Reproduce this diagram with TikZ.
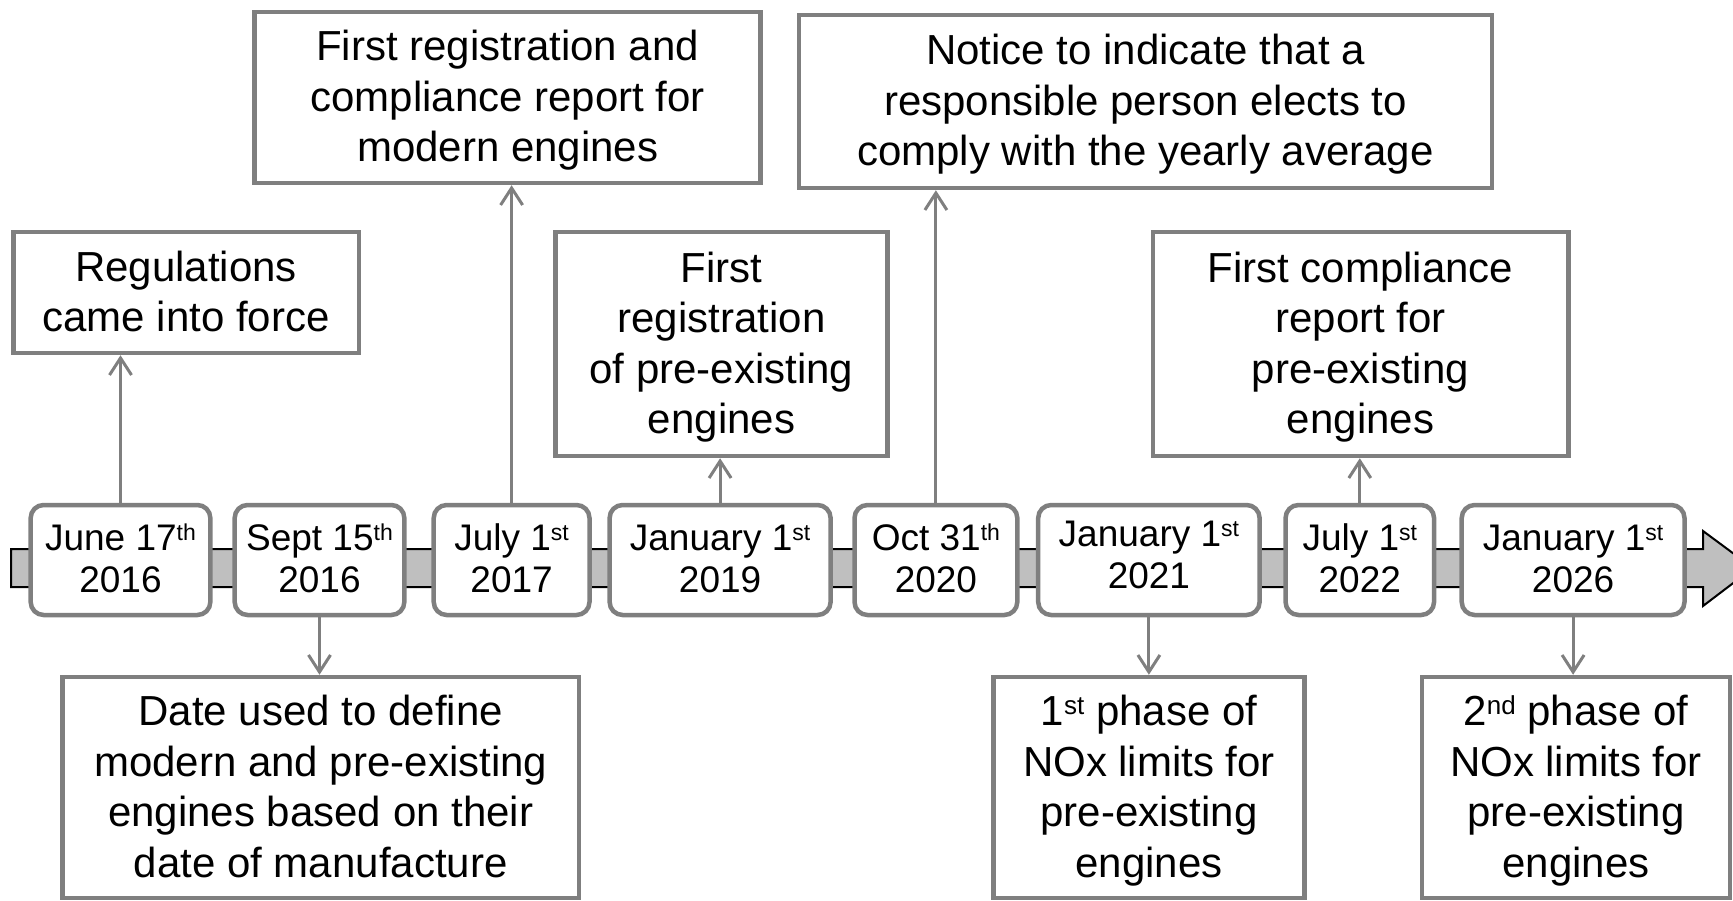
\documentclass[tikz,border=0pt]{standalone}
\usepackage{fontspec}
\setmainfont{Liberation Sans}
\usetikzlibrary{arrows.meta}
\definecolor{bordergray}{RGB}{127,127,127}
\definecolor{barfill}{RGB}{191,191,191}
\newcommand\evs{\rule[-11.5pt]{0pt}{50.5pt}}
\newcommand\dts{\rule[-10pt]{0pt}{42pt}}
\newcommand\dtslow{\rule[-18pt]{0pt}{42pt}}
\newcommand\dsup[1]{\raisebox{10pt}{\fontsize{23}{23}\selectfont #1}}
\newcommand\esup[1]{\raisebox{11.5pt}{\fontsize{26}{26}\selectfont #1}}
\begin{document}
\begin{tikzpicture}[x=1pt,y=-1pt,
  datebox/.style={draw=bordergray, line width=4.5pt, rounded corners=13pt, fill=white,
    inner sep=0pt, align=center, font=\fontsize{37}{42}\selectfont, minimum height=110pt},
  evbox/.style={draw=bordergray, line width=4.5pt, fill=white, inner sep=0pt,
    align=center, font=\fontsize{42}{50.5}\selectfont},
  link/.style={draw=bordergray, line width=3pt, -{Straight Barb[length=17pt,width=22pt]}},
  timebar/.style={draw=black, line width=2pt, fill=barfill, line join=miter}]
\useasboundingbox (0,0) rectangle (1733,901);
\clip (0,0) rectangle (1733,901);
% timeline bar
\draw[timebar] (11,549) -- (1703,549) -- (1703,531) -- (1753,568) -- (1703,606)
  -- (1703,587) -- (11,587) -- cycle;
% date boxes
\node[datebox, minimum width=179.7pt] (d1) at (120.5,560) {\dts June 17\dsup{th}\\\dts 2016};
\node[datebox, minimum width=169.7pt] (d2) at (319.5,560) {\dts Sept 15\dsup{th}\\\dts 2016};
\node[datebox, minimum width=155.8pt] (d3) at (511.6,560) {\dts July 1\dsup{st}\\\dts 2017};
\node[datebox, minimum width=221pt] (d4) at (720.1,560) {\dts January 1\dsup{st}\\\dts 2019};
\node[datebox, minimum width=162.8pt] (d5) at (935.9,560) {\dts Oct 31\dsup{th}\\\dts 2020};
\node[datebox, minimum width=221.4pt] (d6) at (1148.9,560) {\dts January 1\dsup{st}\\\dtslow 2021};
\node[datebox, minimum width=148.5pt] (d7) at (1359.8,560) {\dts July 1\dsup{st}\\\dts 2022};
\node[datebox, minimum width=222.8pt] (d8) at (1573.1,560) {\dts January 1\dsup{st}\\\dts 2026};
% event boxes
\node[evbox, minimum width=345.5pt, minimum height=121pt] (e1) at (186,292.5)
  {\evs Regulations\\\evs came into force};
\node[evbox, minimum width=506pt, minimum height=171pt] (e2) at (507.7,97.5)
  {\evs First registration and\\\evs compliance report for\\\evs modern engines};
\node[evbox, minimum width=331.8pt, minimum height=224pt] (e3) at (721.5,344)
  {\evs First\\\evs registration\\\evs of pre-existing\\\evs engines};
\node[evbox, minimum width=693pt, minimum height=173pt] (e4) at (1145.5,101.5)
  {\evs Notice to indicate that a\\\evs responsible person elects to\\\evs comply with the yearly average};
\node[evbox, minimum width=415.5pt, minimum height=224pt] (e5) at (1360.5,344)
  {\evs First compliance\\\evs report for\\\evs pre-existing\\\evs engines};
\node[evbox, minimum width=516.7pt, minimum height=221pt] (e6) at (320.7,787.5)
  {\evs Date used to define\\\evs modern and pre-existing\\\evs engines based on their\\\evs date of manufacture};
\node[evbox, minimum width=311pt, minimum height=221pt] (e7) at (1149,787.5)
  {\evs 1\esup{st} phase of\\\evs NOx limits for\\\evs pre-existing\\\evs engines};
\node[evbox, minimum width=308pt, minimum height=221pt] (e8) at (1576,787.5)
  {\evs 2\esup{nd} phase of\\\evs NOx limits for\\\evs pre-existing\\\evs engines};
% connectors
\draw[link] (d1.north) -- (d1.north |- e1.south);
\draw[link] (d3.north) -- (d3.north |- e2.south);
\draw[link] (d4.north) -- (d4.north |- e3.south);
\draw[link] (d5.north) -- (d5.north |- e4.south);
\draw[link] (d7.north) -- (d7.north |- e5.south);
\draw[link] (d2.south) -- (d2.south |- e6.north);
\draw[link] (d6.south) -- (d6.south |- e7.north);
\draw[link] (d8.south) -- (d8.south |- e8.north);
\end{tikzpicture}
\end{document}
